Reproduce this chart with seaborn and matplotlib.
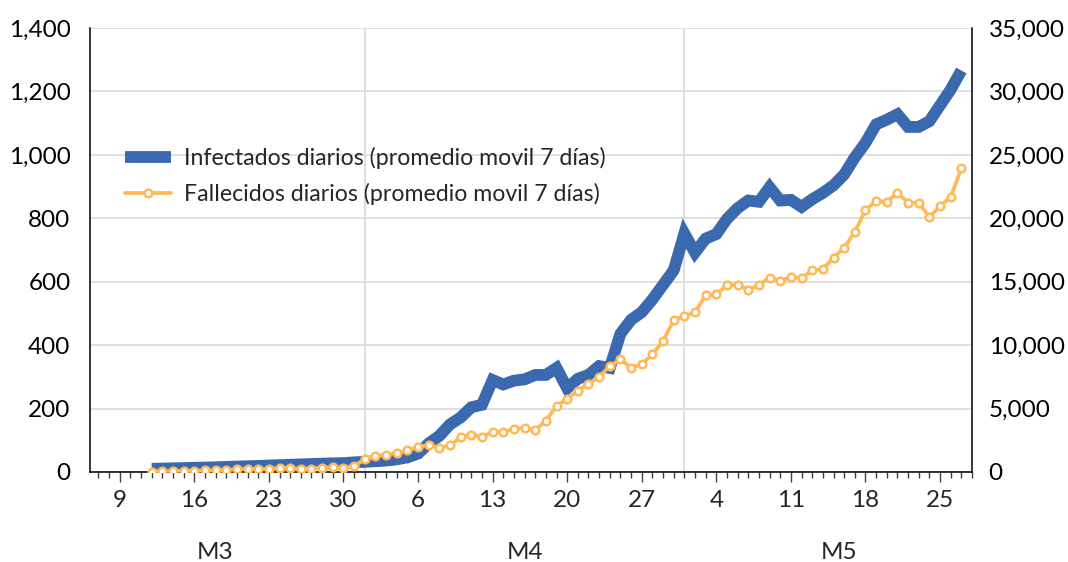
import numpy as np
import pandas as pd
import matplotlib
matplotlib.use("Agg")
import matplotlib.pyplot as plt
import matplotlib.dates as mdates
from matplotlib.ticker import FuncFormatter
import seaborn as sns

# daily 7-day moving averages, 12 Mar - 27 May 2020
fechas = pd.date_range("2020-03-12", "2020-05-27", freq="D")

infectados = [
    # Mar 12-31
    250, 270, 290, 310, 330, 350, 370, 400, 430, 450,
    480, 510, 540, 570, 600, 630, 660, 680, 700, 760,
    # Apr 1-30
    800, 850, 900, 1000, 1150, 1450, 2250, 2850, 3750, 4300,
    5100, 5300, 7250, 6900, 7200, 7300, 7650, 7650, 8200, 6600,
    7350, 7650, 8350, 8200, 10900, 12000, 12600, 13600, 14750, 15900,
    # May 1-27
    18800, 17300, 18400, 18750, 19950, 20800, 21400, 21300, 22450, 21400,
    21450, 20900, 21500, 22000, 22600, 23450, 24800, 25950, 27400, 27770,
    28200, 27200, 27200, 27650, 28900, 30150, 31650,
]

fallecidos = [
    # Mar 12-31
    1, 2, 3, 3, 4, 5, 5, 7, 8, 10,
    9, 10, 12, 12, 10, 11, 14, 15, 14, 19,
    # Apr 1-30
    40, 50, 55, 60, 68, 78, 86, 76, 84, 110,
    118, 110, 127, 126, 136, 139, 132, 162, 208, 231,
    256, 279, 300, 334, 355, 329, 340, 371, 413, 479,
    # May 1-27
    491, 503, 558, 560, 589, 589, 575, 589, 613, 602,
    615, 611, 636, 639, 676, 707, 757, 826, 855, 852,
    880, 849, 849, 804, 838, 867, 957,
]

ticks_izq = [0, 200, 400, 600, 800, 1000, 1200, 1400]
ticks_der = [0, 5000, 10000, 15000, 20000, 25000, 30000, 35000]
meses = ["M3", "M4", "M5"]
inicio_meses = ["2020-04-01", "2020-05-01"]

lbl_inf = "Infectados diarios (promedio movil 7 días)"
lbl_fal = "Fallecidos diarios (promedio movil 7 días)"

BLUE = "#3A69B0"
ORANGE = "#FFB957"
GRID = "#DCDCDC"

df = pd.DataFrame({"fecha": fechas, "infectados": infectados, "fallecidos": fallecidos})

sns.set_style("white")
plt.rcParams["font.family"] = ["Lato", "DejaVu Sans"]

fig = plt.figure(figsize=(10.68, 5.62), dpi=100)
ax = fig.add_axes([90 / 1068, 1 - 472 / 562, (972 - 90) / 1068, (472 - 28) / 562])

sns.lineplot(data=df, x="fecha", y="infectados", ax=ax, color=BLUE,
             linewidth=8.5, legend=False, solid_capstyle="butt", solid_joinstyle="miter")

ax2 = ax.twinx()
sns.lineplot(data=df, x="fecha", y="fallecidos", ax=ax2, color=ORANGE,
             linewidth=2.7, marker="o", markersize=5.5, markerfacecolor="white",
             markeredgecolor=ORANGE, markeredgewidth=1.8, legend=False)

# right axis: infectados, left axis: fallecidos
ax.yaxis.tick_right()
ax2.yaxis.tick_left()
ax.set_ylim(0, 35000)
ax2.set_ylim(0, 1400)
ax.set_yticks(ticks_der)
ax2.set_yticks(ticks_izq)
fmt = FuncFormatter(lambda v, p: f"{v:,.0f}")
ax.yaxis.set_major_formatter(fmt)
ax2.yaxis.set_major_formatter(fmt)
ax.tick_params(axis="y", length=0, pad=12, labelsize=17.5, colors="black")
ax2.tick_params(axis="y", length=0, pad=14, labelsize=17.5, colors="black")

ax.set_xlim(pd.Timestamp("2020-03-06 05:00"), pd.Timestamp("2020-05-28 00:00"))
ax.xaxis.set_major_locator(mdates.WeekdayLocator(byweekday=mdates.MO))
ax.xaxis.set_major_formatter(mdates.DateFormatter("%-d"))
ax.xaxis.set_minor_locator(mdates.DayLocator())
ax.tick_params(axis="x", which="major", length=7, width=1, direction="out",
               pad=6, labelsize=17.5, color="#404040", bottom=True)
ax.tick_params(axis="x", which="minor", length=4, width=1, direction="out",
               color="#404040", bottom=True)

ax.grid(axis="y", color=GRID, lw=1.3)
ax.set_axisbelow(True)
for m in inicio_meses:
    ax.axvline(pd.Timestamp(m), color=GRID, lw=1.3, zorder=0)

for a in (ax, ax2):
    a.set_xlabel("")
    a.set_ylabel("")
    a.spines["top"].set_visible(False)
for s in ("left", "right", "bottom"):
    ax.spines[s].set_visible(True)
    ax.spines[s].set_color("black")
    ax.spines[s].set_linewidth(1.1)
for s in ("left", "right", "bottom"):
    ax2.spines[s].set_visible(False)

# month labels under the day ticks
pos_meses = [pd.Timestamp("2020-03-17 22:00"), pd.Timestamp("2020-04-16"),
             pd.Timestamp("2020-05-15 12:00")]
trans = ax.get_xaxis_transform()
for p, m in zip(pos_meses, meses):
    ax.text(p, -0.182, m, transform=trans, ha="center", va="center", fontsize=17.5)

h_inf = ax.lines[0]
h_fal = ax2.lines[0]
ax2.legend([h_inf, h_fal], [lbl_inf, lbl_fal], loc="upper left",
           bbox_to_anchor=(0.016, 0.78), frameon=False, fontsize=16.7,
           handlelength=2.0, handletextpad=0.55, labelspacing=0.6)

fig.savefig("out.png", dpi=100)
